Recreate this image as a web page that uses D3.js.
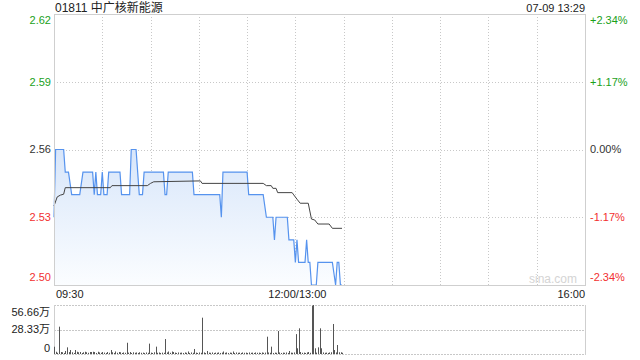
<!DOCTYPE html>
<html>
<head>
<meta charset="utf-8">
<script src="https://cdn.jsdelivr.net/npm/d3@7"></script>
<style>
  body { margin: 0; background: #fff; }
  svg { display: block; font-family: Arial, "Liberation Sans", "Noto Sans CJK SC", sans-serif; }
</style>
</head>
<body>
<svg width="640" height="360"></svg>
<script>
const title = "01811 中广核新能源";
const stamp = "07-09 13:29";
const prevClose = 2.56;
const priceTicks = [2.62, 2.59, 2.56, 2.53, 2.50];
const pctTicks = ["+2.34%", "+1.17%", "0.00%", "-1.17%", "-2.34%"];
const timeLabels = ["09:30", "12:00/13:00", "16:00"];
const volTicks = ["56.66万", "28.33万", "0"];

// minute index from 09:30 (lunch removed), price at that minute
const priceMinute = [0, 1, 6, 7, 9, 11, 16, 18, 24, 25, 26, 27, 29, 30, 31, 33, 34, 41, 42, 47,
  48, 51, 53, 55, 56, 68, 69, 70, 71, 86, 87, 103, 104, 105, 120, 121, 130, 132, 136, 137,
  138, 145, 146, 149, 150, 151, 152, 156, 157, 158, 159, 160, 163, 164, 173, 175, 176, 177, 178, 179];
const priceValue = [2.53, 2.56, 2.56, 2.55, 2.55, 2.54, 2.54, 2.55, 2.55, 2.54, 2.55, 2.54, 2.54, 2.55, 2.54, 2.54, 2.55, 2.55, 2.54, 2.54,
  2.56, 2.56, 2.54, 2.54, 2.55, 2.55, 2.54, 2.54, 2.55, 2.55, 2.54, 2.54, 2.53, 2.55, 2.55, 2.54, 2.54, 2.53, 2.53, 2.52,
  2.53, 2.53, 2.52, 2.52, 2.51, 2.52, 2.51, 2.51, 2.52, 2.51, 2.51, 2.50, 2.50, 2.51, 2.51, 2.50, 2.51, 2.51, 2.50, 2.50];

const avgMinute = [0, 2, 4, 6, 7, 35, 36, 58, 60, 62, 91, 92, 130, 132, 135, 136, 138, 139, 148, 149,
  151, 153, 158, 160, 162, 164, 171, 173, 179];
const avgValue = [2.535, 2.539, 2.5398, 2.5402, 2.5431, 2.5431, 2.544, 2.544, 2.545, 2.5457, 2.5461, 2.545, 2.545, 2.544, 2.544, 2.5428, 2.5428, 2.5409, 2.5409, 2.5399,
  2.538, 2.5362, 2.5362, 2.5292, 2.5288, 2.527, 2.527, 2.5251, 2.5251];

// volume per minute, in 万
const volume = [
  8.4, 2.6, 1.4, 31.6, 2.3, 2.0, 1.2, 3.5, 7.7, 2.2,
  4.6, 2.0, 1.2, 4.6, 2.6, 2.0, 2.3, 1.2, 2.0, 2.6,
  2.0, 1.4, 2.3, 2.3, 2.6, 2.3, 1.2, 2.6, 1.8, 1.4,
  2.3, 1.6, 1.2, 2.3, 1.4, 4.6, 2.0, 1.2, 2.9, 1.4,
  2.3, 2.0, 1.2, 1.8, 1.4, 13.0, 1.6, 2.3, 1.2, 2.0,
  1.4, 1.8, 1.2, 2.0, 1.4, 1.6, 1.2, 1.8, 1.4, 12.0,
  1.6, 1.2, 2.0, 8.5, 1.4, 1.8, 1.2, 1.6, 1.4, 17.3,
  1.8, 2.9, 1.4, 2.9, 2.3, 1.6, 1.2, 1.8, 1.4, 1.6,
  1.2, 1.8, 1.4, 2.9, 1.2, 1.8, 1.4, 5.8, 1.6, 1.2,
  1.8, 1.4, 42.0, 1.8, 1.2, 3.5, 1.6, 1.4, 1.8, 1.2,
  1.6, 1.4, 1.8, 1.2, 1.6, 2.9, 1.4, 1.8, 1.2, 1.6,
  1.4, 2.9, 1.2, 1.8, 1.4, 1.6, 1.2, 1.8, 1.4, 1.6,
  1.2, 1.8, 1.4, 1.6, 1.2, 1.8, 1.4, 1.6, 1.2, 1.8,
  1.4, 1.6, 20.0, 1.8, 1.4, 8.5, 1.2, 1.6, 1.4, 26.6,
  1.8, 1.2, 1.6, 1.4, 1.8, 1.2, 3.5, 1.6, 1.4, 1.8,
  23.0, 6.6, 29.7, 2.3, 1.4, 1.6, 1.2, 1.8, 2.3, 1.4,
  55.8, 56.66, 6.6, 1.6, 7.7, 29.7, 6.6, 1.8, 1.4, 1.6,
  1.2, 1.8, 2.0, 34.7, 4.6, 1.8, 10.4, 2.0, 2.0, 1.4
];

const svg = d3.select("svg");
const plotLeft = 54;
const plotRight = 585;
const plotTop = 14;
const plotBottom = 285;
const volTop = 305;
const volBottom = 354;
const green = "#1aa11a";
const red = "#f23030";
const grid = "#c8c8c8";

const x = d3.scaleLinear().domain([0, 330]).range([plotLeft, plotRight]);
const y = d3.scaleLinear().domain([2.50, 2.62]).range([plotBottom, plotTop]);
const yVol = d3.scaleLinear().domain([0, 56.66]).range([volBottom, volTop]);

const colorOf = v => (v > prevClose + 1e-9 ? green : v < prevClose - 1e-9 ? red : "#333");

// gradient for the price area
const defs = svg.append("defs");
const grad = defs.append("linearGradient")
  .attr("id", "fillGrad")
  .attr("gradientUnits", "userSpaceOnUse")
  .attr("x1", 0).attr("y1", y(2.56))
  .attr("x2", 0).attr("y2", plotBottom);
grad.append("stop").attr("offset", 0).attr("stop-color", "#d8e6fa");
grad.append("stop").attr("offset", 1).attr("stop-color", "#fbfdff");

// title and time stamp
svg.append("text")
  .attr("x", 55).attr("y", 12)
  .attr("font-size", 12).attr("fill", "#222")
  .text(title);
svg.append("text")
  .attr("x", plotRight).attr("y", 12)
  .attr("text-anchor", "end")
  .attr("font-size", 11).attr("fill", "#222")
  .text(stamp);

// horizontal grid lines
svg.selectAll(".hgrid")
  .data(priceTicks.slice(1, 4))
  .join("line")
  .attr("x1", plotLeft).attr("x2", plotRight)
  .attr("y1", d => Math.round(y(d)) + 0.5)
  .attr("y2", d => Math.round(y(d)) + 0.5)
  .attr("stroke", grid)
  .attr("stroke-dasharray", "1,2");

// vertical grid lines
const vTicks = d3.range(30, 330, 30);
svg.selectAll(".vgrid")
  .data(vTicks)
  .join("line")
  .attr("x1", d => Math.round(x(d)) + 0.5)
  .attr("x2", d => Math.round(x(d)) + 0.5)
  .attr("y1", plotTop).attr("y2", plotBottom)
  .attr("stroke", grid)
  .attr("stroke-dasharray", "1,2");

// watermark
svg.append("text")
  .attr("x", 553).attr("y", 283)
  .attr("text-anchor", "middle")
  .attr("font-size", 12).attr("fill", "#d4d4d4")
  .text("sina.com");

// price area and lines
const pricePts = priceMinute.map((m, i) => [m, priceValue[i]]);
const avgPts = avgMinute.map((m, i) => [m, avgValue[i]]);

svg.append("path")
  .datum(pricePts)
  .attr("fill", "url(#fillGrad)")
  .attr("d", d3.area().x(d => x(d[0])).y0(plotBottom).y1(d => y(d[1])));

svg.append("path")
  .datum(pricePts)
  .attr("fill", "none")
  .attr("stroke", "#5693ee")
  .attr("stroke-width", 1.2)
  .attr("d", d3.line().x(d => x(d[0])).y(d => y(d[1])));

svg.append("path")
  .datum(avgPts)
  .attr("fill", "none")
  .attr("stroke", "#444")
  .attr("stroke-width", 1)
  .attr("d", d3.line().x(d => x(d[0])).y(d => y(d[1])));

// frame of the price panel
svg.append("rect")
  .attr("x", plotLeft + 0.5).attr("y", plotTop + 0.5)
  .attr("width", plotRight - plotLeft).attr("height", plotBottom - plotTop)
  .attr("fill", "none")
  .attr("stroke", "#cfcfcf");

// left price labels
const pricePos = (d, i) => (i === 0 ? y(d) + 6 : i === priceTicks.length - 1 ? y(d) - 8 : y(d));
svg.selectAll(".plabel")
  .data(priceTicks)
  .join("text")
  .attr("x", 51)
  .attr("y", pricePos)
  .attr("dy", "0.35em")
  .attr("text-anchor", "end")
  .attr("font-size", 11)
  .attr("fill", d => colorOf(d))
  .text(d => d.toFixed(2));

// right percent labels
svg.selectAll(".pctlabel")
  .data(pctTicks)
  .join("text")
  .attr("x", 590)
  .attr("y", (d, i) => pricePos(priceTicks[i], i))
  .attr("dy", "0.35em")
  .attr("font-size", 11)
  .attr("fill", (d, i) => colorOf(priceTicks[i]))
  .text(d => d);

// time labels
svg.append("text").attr("x", 56).attr("y", 294).attr("dy", "0.35em")
  .attr("font-size", 11).attr("fill", "#222").text(timeLabels[0]);
svg.append("text").attr("x", x(150) + 2).attr("y", 294).attr("dy", "0.35em")
  .attr("text-anchor", "middle")
  .attr("font-size", 11).attr("fill", "#222").text(timeLabels[1]);
svg.append("text").attr("x", plotRight).attr("y", 294).attr("dy", "0.35em")
  .attr("text-anchor", "end")
  .attr("font-size", 11).attr("fill", "#222").text(timeLabels[2]);

// volume panel grid
svg.selectAll(".volgrid")
  .data([56.66, 28.33, 0])
  .join("line")
  .attr("x1", plotLeft).attr("x2", plotRight)
  .attr("y1", d => Math.round(yVol(d)) + 0.5)
  .attr("y2", d => Math.round(yVol(d)) + 0.5)
  .attr("stroke", grid)
  .attr("stroke-dasharray", "2,1");
svg.append("line")
  .attr("x1", plotLeft + 0.5).attr("x2", plotLeft + 0.5)
  .attr("y1", volTop).attr("y2", volBottom + 1)
  .attr("stroke", "#cfcfcf");
svg.append("line")
  .attr("x1", plotRight + 0.5).attr("x2", plotRight + 0.5)
  .attr("y1", volTop).attr("y2", volBottom + 1)
  .attr("stroke", "#cfcfcf");

// volume bars
svg.selectAll(".vol")
  .data(volume)
  .join("rect")
  .attr("x", (d, i) => Math.floor(x(i) + 0.7))
  .attr("width", 1)
  .attr("y", d => yVol(d))
  .attr("height", d => volBottom - yVol(d))
  .attr("fill", "#555");

// volume labels
svg.selectAll(".vlabel")
  .data(volTicks)
  .join("text")
  .attr("x", 50)
  .attr("y", (d, i) => [312, 329, 348][i])
  .attr("dy", "0.35em")
  .attr("text-anchor", "end")
  .attr("font-size", 11)
  .attr("fill", "#222")
  .text(d => d);
</script>
</body>
</html>
